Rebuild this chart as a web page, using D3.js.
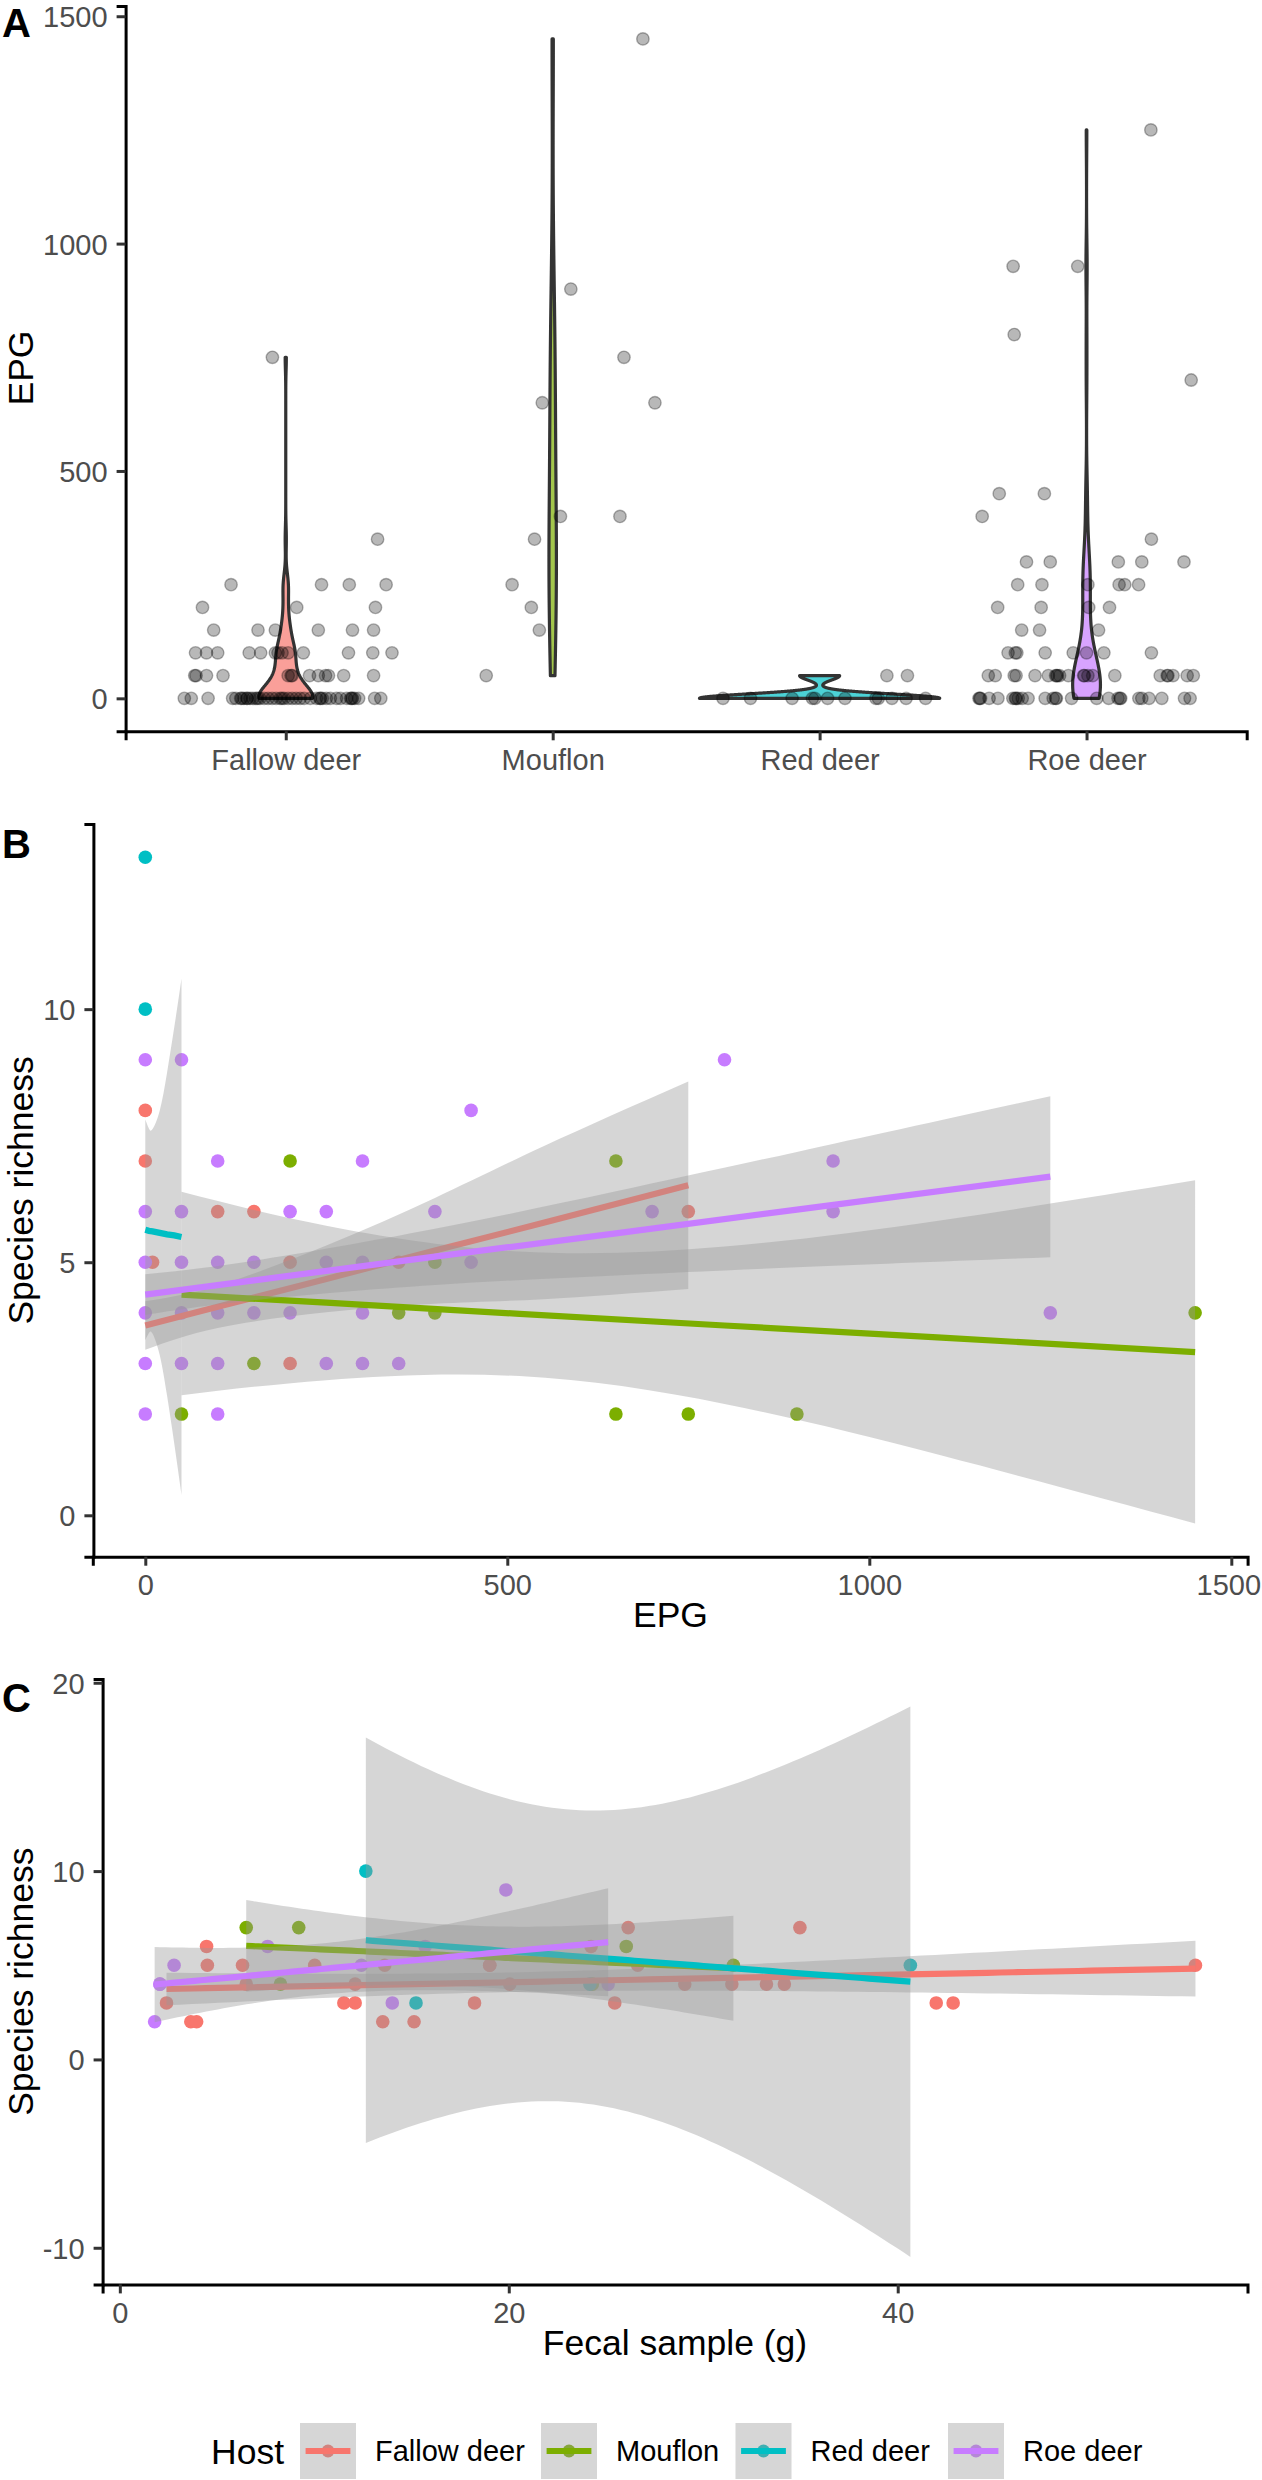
<!DOCTYPE html>
<html><head><meta charset="utf-8">
<script src="https://cdn.jsdelivr.net/npm/d3@7"></script>
<style>body{margin:0;background:#fff}</style>
</head><body>
<svg id="chart" width="1262" height="2480" style="background:#fff"></svg>
<script>
// ---------------- DATA ----------------
const hosts = ["Fallow deer", "Mouflon", "Red deer", "Roe deer"];
const hostColors = ["#F8766D", "#7CAE00", "#00BFC4", "#C77CFF"];

// Panel A: jittered EPG points, [horizontal jitter in category units, EPG]
const jitterFallow = [
 [-0.380,0],[-0.354,0],[-0.291,0],[-0.199,0],[-0.187,0],[-0.169,0],[-0.165,0],[-0.157,0],[-0.146,0],[-0.144,0],
 [-0.134,0],[-0.124,0],[-0.112,0],[-0.105,0],[-0.097,0],[-0.081,0],[-0.066,0],[-0.051,0],[-0.036,0],[-0.021,0],
 [-0.014,0],[-0.006,0],[0.009,0],[0.024,0],[0.039,0],[0.054,0],[0.069,0],[0.092,0],[0.115,0],[0.128,0],
 [0.130,0],[0.137,0],[0.152,0],[0.167,0],[0.190,0],[0.205,0],[0.228,0],[0.243,0],[0.247,0],[0.250,0],
 [0.258,0],[0.273,0],[0.333,0],[0.356,0],
 [-0.341,50],[-0.336,50],[-0.297,50],[-0.235,50],[0.009,50],[0.020,50],[0.024,50],[0.089,50],[0.122,50],[0.149,50],[0.160,50],[0.217,50],[0.329,50],
 [-0.338,100],[-0.297,100],[-0.255,100],[-0.137,100],[-0.094,100],[-0.039,100],[-0.029,100],[-0.014,100],[0.009,100],[0.066,100],[0.235,100],[0.326,100],[0.398,100],
 [-0.270,150],[-0.104,150],[-0.039,150],[0.122,150],[0.250,150],[0.329,150],
 [-0.312,200],[0.041,200],[0.336,200],
 [-0.205,250],[0.134,250],[0.238,250],[0.376,250],
 [0.344,350],[-0.050,750]
];
const jitterMouflon = [
 [-0.249,50],[-0.050,150],[-0.080,200],[-0.152,250],[-0.068,350],[0.029,400],[0.252,400],
 [-0.039,650],[0.383,650],[0.267,750],[0.068,900],[0.338,1450]
];
const jitterRed = [
 [-0.362,0],[-0.259,0],[-0.103,0],[-0.027,0],[-0.018,0],[0.030,0],[0.095,0],[0.211,0],[0.220,0],[0.271,0],[0.324,0],[0.397,0],
 [0.252,50],[0.329,50]
];
const jitterRoe = [
 [0.241,1250],[-0.275,950],[-0.033,950],[-0.271,800],[0.392,700],[-0.327,450],[-0.158,450],[-0.391,400],[0.243,350],
 [-0.225,300],[-0.136,300],[0.119,300],[0.207,300],[0.365,300],
 [-0.258,250],[-0.167,250],[0.005,250],[0.122,250],[0.143,250],[0.195,250],
 [-0.333,200],[-0.170,200],[0.008,200],[0.086,200],
 [-0.243,150],[-0.176,150],[0.045,150],
 [-0.294,100],[-0.267,100],[-0.261,100],[-0.155,100],[-0.050,100],[0.000,100],[0.065,100],[0.243,100],
 [-0.368,50],[-0.342,50],[-0.271,50],[-0.264,50],[-0.193,50],[-0.143,50],[-0.116,50],[-0.112,50],[-0.109,50],[-0.101,50],[-0.068,50],
 [-0.011,50],[-0.008,50],[0.005,50],[0.023,50],[0.106,50],[0.276,50],[0.302,50],[0.305,50],[0.324,50],[0.377,50],[0.400,50],
 [-0.403,0],[-0.400,0],[-0.397,0],[-0.365,0],[-0.332,0],[-0.276,0],[-0.267,0],[-0.264,0],[-0.256,0],[-0.241,0],[-0.219,0],[-0.155,0],
 [-0.125,0],[-0.116,0],[-0.113,0],[-0.056,0],[0.038,0],[0.083,0],[0.118,0],[0.125,0],[0.128,0],[0.196,0],[0.207,0],[0.234,0],[0.282,0],[0.367,0],[0.388,0]
];
const ticksA_y = [0, 500, 1000, 1500];

// Panel B: [EPG, species richness]
const pointsB_fallow = [[0,8],[0,7],[10,5],[100,6],[150,6],[200,5],[350,5],[200,3],[750,6]];
const pointsB_mouflon = [[200,7],[650,7],[400,5],[350,4],[400,4],[150,3],[50,2],[650,2],[750,2],[900,2],[1450,4]];
const pointsB_red = [[0,13],[0,10]];
const pointsB_roe = [[0,9],[50,9],[450,8],[100,7],[300,7],[0,6],[50,6],[200,6],[250,6],[400,6],
 [0,5],[50,5],[100,5],[150,5],[250,5],[300,5],[450,5],[0,4],[50,4],[100,4],[150,4],[200,4],[300,4],
 [0,3],[50,3],[100,3],[250,3],[300,3],[350,3],[0,2],[100,2],[800,9],[950,7],[700,6],[950,6],[1250,4]];
// Panel B linear smooths: [EPG, lower, fit, upper]
const smoothB_fallow = [[0,3.27,3.75,4.23],[100,3.70,4.12,4.54],[250,4.01,4.67,5.33],[400,4.18,5.23,6.27],[550,4.27,5.78,7.29],[750,4.47,6.52,8.57]];
const smoothB_mouflon = [[50,2.37,4.36,6.39],[250,2.67,4.20,5.72],[517,2.75,3.98,5.21],[800,2.20,3.75,5.31],[1100,1.18,3.51,5.83],[1450,-0.16,3.225,6.62]];
const smoothB_red = [[0,3.46,5.64,7.82],[5,3.60,5.62,7.64],[10,3.59,5.61,7.63],[20,3.16,5.58,8.00],[30,2.37,5.55,8.74],[40,1.42,5.53,9.64],[50,0.40,5.50,10.60]];
const smoothB_roe = [[0,3.96,4.36,4.76],[150,4.25,4.64,5.03],[400,4.55,5.11,5.66],[650,4.74,5.57,6.40],[900,4.90,6.04,7.18],[1250,5.10,6.69,8.28]];
const ticksB_x = [0, 500, 1000, 1500];
const ticksB_y = [0, 5, 10];

// Panel C: [fecal sample (g), species richness]
const pointsC_fallow = [[2.40,3],[3.65,2],[3.95,2],[4.46,6],[4.50,5],[6.31,5],[6.50,4],[10.02,5],[11.52,3],[12.10,3],
 [12.10,4],[13.62,5],[13.52,2],[15.13,2],[18.24,3],[19.02,5],[19.02,5],[20.05,4],[24.23,6],[25.45,3],
 [26.14,7],[26.63,5],[29.05,4],[31.47,4],[33.25,4],[34.17,4],[34.97,7],[41.98,3],[42.85,3],[55.31,5]];
const pointsC_mouflon = [[6.50,7],[8.26,4],[9.20,7],[24.30,4],[26.04,6],[31.55,5]];
const pointsC_red = [[12.65,10],[15.23,3],[24.17,4],[40.65,5]];
const pointsC_roe = [[1.79,2],[2.06,4],[2.06,4],[2.79,5],[7.60,6],[12.42,5],[14.01,3],[15.70,6],[19.85,9],[25.11,4]];
const ticksC_x = [0, 20, 40];
const ticksC_y = [-10, 0, 10, 20];

// ---------------- HELPERS ----------------
const FONT = '"Liberation Sans", Arial, Helvetica, sans-serif';
const TICK_FS = 29, TITLE_FS = 35.5;
const W = 1262;
const svg = d3.select("#chart");

function styleAxis(g) {
  g.attr("font-family", null).attr("font-size", null);
  g.select(".domain").attr("stroke", "#000").attr("stroke-width", 3);
  g.selectAll(".tick line").attr("stroke", "#333").attr("stroke-width", 3);
  g.selectAll(".tick text").attr("fill", "#4D4D4D")
    .style("font-size", TICK_FS + "px").style("font-family", FONT);
}
function bottomAxis(scale, y, ticks) {
  const ax = d3.axisBottom(scale).tickSizeOuter(0).tickSize(9).tickPadding(9.2);
  if (ticks) ax.tickValues(ticks).tickFormat(d3.format("d"));
  const g = svg.append("g").attr("transform", `translate(0,${y})`).call(ax);
  styleAxis(g);
  // keep labels inside the page
  g.selectAll(".tick text").each(function () {
    const bb = this.getBoundingClientRect();
    if (bb.right > W - 1) d3.select(this).attr("dx", -(bb.right - (W - 1)));
  });
}
function leftAxis(scale, x, ticks) {
  const ax = d3.axisLeft(scale).tickSizeOuter(0).tickSize(9).tickPadding(9).tickValues(ticks).tickFormat(d => String(d));
  const g = svg.append("g").attr("transform", `translate(${x},0)`).call(ax);
  styleAxis(g);
  g.selectAll(".tick text").attr("dy", "0.36em");
}
function yTitle(txt, x, cy) {
  svg.append("text").attr("transform", `translate(${x},${cy}) rotate(-90)`)
    .attr("text-anchor", "middle").style("font-family", FONT).style("font-size", TITLE_FS + "px")
    .attr("fill", "#000").text(txt);
}
function xTitle(txt, cx, y) {
  svg.append("text").attr("x", cx).attr("y", y).attr("text-anchor", "middle")
    .style("font-family", FONT).style("font-size", TITLE_FS + "px").attr("fill", "#000").text(txt);
}
function panelLabel(txt, y) {
  svg.append("text").attr("x", 2).attr("y", y).style("font-family", FONT)
    .style("font-size", "40px").style("font-weight", "bold").attr("fill", "#000").text(txt);
}
function expand(ext) { const p = (ext[1] - ext[0]) * 0.05; return [ext[0] - p, ext[1] + p]; }

// t quantile for lm confidence bands
function lgamma(z) {
  const c = [0.99999999999980993, 676.5203681218851, -1259.1392167224028, 771.32342877765313,
    -176.61502916214059, 12.507343278686905, -0.13857109526572012, 9.9843695780195716e-6, 1.5056327351493116e-7];
  if (z < 0.5) return Math.log(Math.PI / Math.sin(Math.PI * z)) - lgamma(1 - z);
  z -= 1; let x = c[0];
  for (let i = 1; i < 9; i++) x += c[i] / (z + i);
  const t = z + 7.5;
  return 0.5 * Math.log(2 * Math.PI) + (z + 0.5) * Math.log(t) - t + Math.log(x);
}
function tpdf(t, v) { return Math.exp(lgamma((v + 1) / 2) - lgamma(v / 2) - 0.5 * Math.log(v * Math.PI) - (v + 1) / 2 * Math.log(1 + t * t / v)); }
function tcdf(t, v) { const N = 600, h = t / N; let s = tpdf(0, v) + tpdf(t, v); for (let i = 1; i < N; i++) s += (i % 2 ? 4 : 2) * tpdf(i * h, v); return 0.5 + s * h / 3; }
function qt(p, v) { let lo = 0, hi = 60; for (let k = 0; k < 60; k++) { const m = (lo + hi) / 2; if (tcdf(m, v) < p) lo = m; else hi = m; } return (lo + hi) / 2; }

function lmBand(pts) {
  const n = pts.length, xm = d3.mean(pts, d => d[0]), ym = d3.mean(pts, d => d[1]);
  const sxx = d3.sum(pts, d => (d[0] - xm) ** 2), sxy = d3.sum(pts, d => (d[0] - xm) * (d[1] - ym));
  const b = sxy / sxx, a = ym - b * xm;
  const s = Math.sqrt(d3.sum(pts, d => (d[1] - a - b * d[0]) ** 2) / (n - 2));
  const t = qt(0.975, n - 2);
  const [mn, mx] = d3.extent(pts, d => d[0]);
  return d3.range(80).map(i => {
    const x = mn + (mx - mn) * i / 79, f = a + b * x;
    const se = s * Math.sqrt(1 / n + (x - xm) ** 2 / sxx);
    return [x, f - t * se, f, f + t * se];
  });
}
function kde(vals) {
  const s = vals.slice().sort(d3.ascending), n = s.length;
  const sd = d3.deviation(s);
  const iqr = d3.quantileSorted(s, 0.75) - d3.quantileSorted(s, 0.25);
  let lo = Math.min(sd, iqr / 1.34);
  if (!lo) lo = sd || Math.abs(s[0]) || 1;
  const bw = 0.9 * lo * Math.pow(n, -0.2);
  const mn = s[0], mx = s[n - 1];
  return d3.range(512).map(i => {
    const v = mn + (mx - mn) * i / 511;
    return [v, d3.sum(s, x => Math.exp(-0.5 * ((v - x) / bw) ** 2)) / (n * bw * Math.sqrt(2 * Math.PI))];
  });
}

// ---------------- PANEL A ----------------
const jitterA = [jitterFallow, jitterMouflon, jitterRed, jitterRoe];
const xA = d3.scalePoint().domain(hosts).range([125.6, 1246.7]).padding(0.6);
const unitA = xA.step();
const yA = d3.scaleLinear().domain(expand(d3.extent(jitterA.flat(), d => d[1]))).range([731.3, 6]);

const dens = jitterA.map(arr => kde(arr.map(d => d[1])));
const maxD = d3.max(dens.flat(), d => d[1]);
const gA = svg.append("g");
hosts.forEach((h, i) => {
  const cx = xA(h);
  const area = d3.area().y(d => yA(d[0]))
    .x0(d => cx - 0.45 * unitA * d[1] / maxD).x1(d => cx + 0.45 * unitA * d[1] / maxD);
  gA.append("path").attr("d", area(dens[i])).attr("fill", hostColors[i]).attr("fill-opacity", 0.7)
    .attr("stroke", "#333").attr("stroke-width", 3.2).attr("stroke-linejoin", "round");
});
hosts.forEach((h, i) => {
  gA.selectAll(null).data(jitterA[i]).enter().append("circle")
    .attr("cx", d => xA(h) + d[0] * unitA).attr("cy", d => yA(d[1])).attr("r", 6.2)
    .attr("fill", "#000").attr("fill-opacity", 0.28)
    .attr("stroke", "#000").attr("stroke-opacity", 0.3).attr("stroke-width", 1.4);
});
bottomAxis(xA, 731.3);
leftAxis(yA, 125.6, ticksA_y);
yTitle("EPG", 33, 368);
panelLabel("A", 37);

// ---------------- PANEL B ----------------
const pointsB = [pointsB_fallow, pointsB_mouflon, pointsB_red, pointsB_roe];
const smoothB = [smoothB_fallow, smoothB_mouflon, smoothB_red, smoothB_roe];
const xB = d3.scaleLinear().domain(expand(d3.extent(pointsB.flat().concat(smoothB.flat()), d => d[0]))).range([92.8, 1247.6]);
const yB = d3.scaleLinear().domain(expand([
  d3.min([d3.min(pointsB.flat(), d => d[1]), d3.min(smoothB.flat(), d => d[1])]),
  d3.max([d3.max(pointsB.flat(), d => d[1]), d3.max(smoothB.flat(), d => d[3])])
])).range([1556.7, 824]);
const gB = svg.append("g");
pointsB.forEach((arr, i) => {
  gB.selectAll(null).data(arr).enter().append("circle")
    .attr("cx", d => xB(d[0])).attr("cy", d => yB(d[1])).attr("r", 6.8).attr("fill", hostColors[i]);
});
smoothB.forEach((arr, i) => {
  gB.append("path").attr("d", d3.area().x(d => xB(d[0])).y0(d => yB(d[1])).y1(d => yB(d[3])).curve(d3.curveNatural)(arr))
    .attr("fill", "#999999").attr("fill-opacity", 0.4);
  gB.append("path").attr("d", d3.line().x(d => xB(d[0])).y(d => yB(d[2]))(arr))
    .attr("fill", "none").attr("stroke", hostColors[i]).attr("stroke-width", 6.2);
});
bottomAxis(xB, 1556.7, ticksB_x);
leftAxis(yB, 93.4, ticksB_y);
xTitle("EPG", 670.5, 1627);
yTitle("Species richness", 33, 1190.4);
panelLabel("B", 858);

// ---------------- PANEL C ----------------
const pointsC = [pointsC_fallow, pointsC_mouflon, pointsC_red, pointsC_roe];
const bandsC = pointsC.map(lmBand);
const xC = d3.scaleLinear().domain(expand(d3.extent(pointsC.flat(), d => d[0]))).range([102.6, 1247.5]);
const yC = d3.scaleLinear().domain(expand([
  d3.min([d3.min(pointsC.flat(), d => d[1]), d3.min(bandsC.flat(), d => d[1])]),
  d3.max([d3.max(pointsC.flat(), d => d[1]), d3.max(bandsC.flat(), d => d[3])])
])).range([2284.4, 1679]);
const gC = svg.append("g");
pointsC.forEach((arr, i) => {
  gC.selectAll(null).data(arr).enter().append("circle")
    .attr("cx", d => xC(d[0])).attr("cy", d => yC(d[1])).attr("r", 6.8).attr("fill", hostColors[i]);
});
bandsC.forEach((arr, i) => {
  gC.append("path").attr("d", d3.area().x(d => xC(d[0])).y0(d => yC(d[1])).y1(d => yC(d[3]))(arr))
    .attr("fill", "#999999").attr("fill-opacity", 0.4);
  gC.append("path").attr("d", d3.line().x(d => xC(d[0])).y(d => yC(d[2]))(arr))
    .attr("fill", "none").attr("stroke", hostColors[i]).attr("stroke-width", 6.2);
});
bottomAxis(xC, 2284.4, ticksC_x);
leftAxis(yC, 102.6, ticksC_y);
xTitle("Fecal sample (g)", 675, 2355);
yTitle("Species richness", 33, 1981.7);
panelLabel("C", 1712);

// ---------------- LEGEND ----------------
const gL = svg.append("g");
gL.append("text").attr("x", 211).attr("y", 2464).style("font-family", FONT).style("font-size", TITLE_FS + "px").text("Host");
const keyX = [300, 541, 735.5, 948];
hosts.forEach((h, i) => {
  const kx = keyX[i], ky = 2423, ks = 56;
  gL.append("rect").attr("x", kx).attr("y", ky).attr("width", ks).attr("height", ks).attr("fill", "#fff");
  gL.append("circle").attr("cx", kx + ks / 2).attr("cy", ky + ks / 2).attr("r", 6.5).attr("fill", hostColors[i]);
  gL.append("rect").attr("x", kx).attr("y", ky).attr("width", ks).attr("height", ks).attr("fill", "#999999").attr("fill-opacity", 0.4);
  gL.append("line").attr("x1", kx + 5.6).attr("x2", kx + ks - 5.6).attr("y1", ky + ks / 2).attr("y2", ky + ks / 2)
    .attr("stroke", hostColors[i]).attr("stroke-width", 6.2);
  gL.append("text").attr("x", kx + ks + 19).attr("y", 2461).style("font-family", FONT)
    .style("font-size", TICK_FS + "px").attr("fill", "#000").text(h);
});
</script>
</body></html>
